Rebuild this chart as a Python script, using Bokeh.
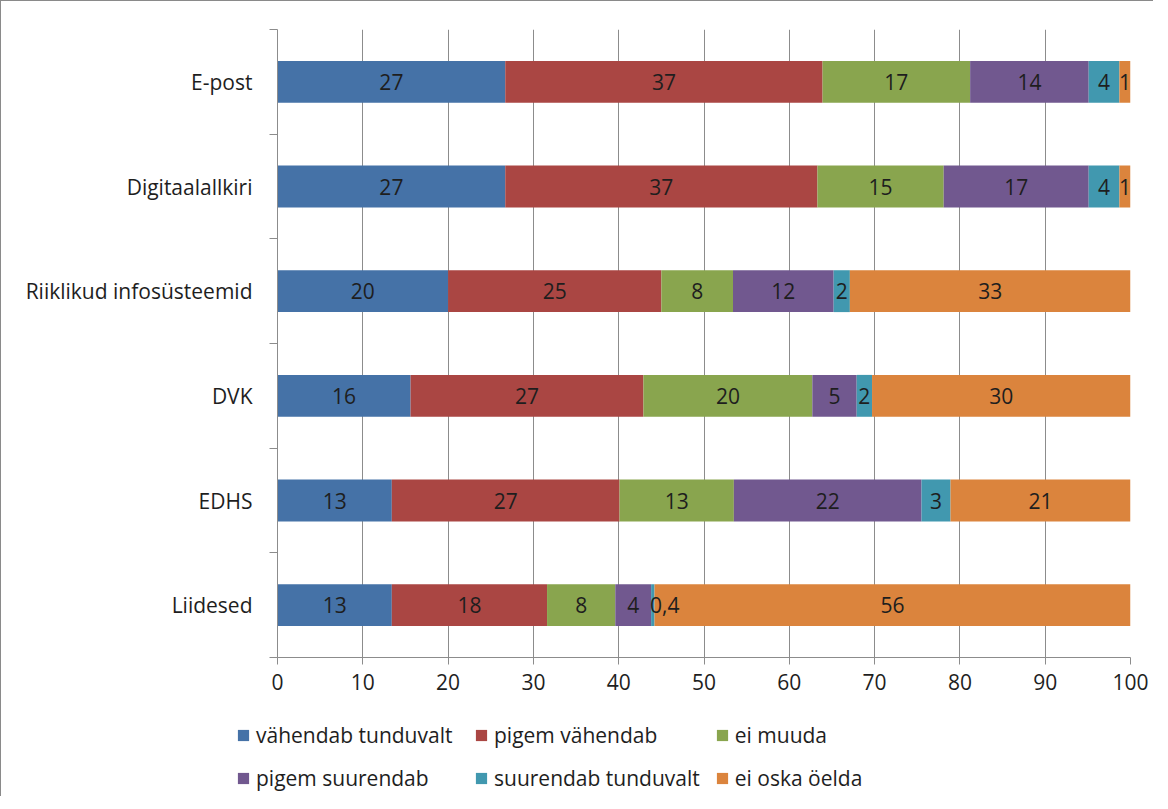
from bokeh.plotting import figure
from bokeh.layouts import column
from bokeh.models import ColumnDataSource, FixedTicker, Legend, LegendItem, Range1d
from bokeh.embed import file_html
from bokeh.resources import INLINE
from bokeh.core.properties import value

categories = ["E-post", "Digitaalallkiri", "Riiklikud infosüsteemid", "DVK", "EDHS", "Liidesed"]
series_names = ["vähendab tunduvalt", "pigem vähendab", "ei muuda",
                "pigem suurendab", "suurendab tunduvalt", "ei oska öelda"]
vahendab_tunduvalt = [26.7, 26.7, 20.0, 15.6, 13.4, 13.4]
pigem_vahendab = [37.2, 36.6, 25.0, 27.3, 26.7, 18.2]
ei_muuda = [17.3, 14.8, 8.4, 19.8, 13.4, 8.0]
pigem_suurendab = [13.9, 17.0, 11.8, 5.2, 22.0, 4.2]
suurendab_tunduvalt = [3.6, 3.6, 1.9, 1.8, 3.4, 0.4]
ei_oska_oelda = [1.3, 1.3, 32.9, 30.3, 21.1, 55.8]
colors = ["#4572A7", "#AA4643", "#89A54E", "#71588F", "#4198AF", "#DB843D"]
x_ticks = [0, 10, 20, 30, 40, 50, 60, 70, 80, 90, 100]

series = [vahendab_tunduvalt, pigem_vahendab, ei_muuda,
          pigem_suurendab, suurendab_tunduvalt, ei_oska_oelda]

FONT = "Open Sans"
FS = "21px"
GRAY = "#8c8c8c"
TXT = "#1e1e1e"

n = len(categories)
ypos = [n - 0.5 - i for i in range(n)]


def fmt(v):
    if v < 1:
        return ("%.1f" % v).replace(".", ",")
    return str(int(v + 0.5))


p = figure(width=1152, height=701, x_range=Range1d(0, 100), y_range=Range1d(0, n),
           output_backend="svg", toolbar_location=None,
           min_border_left=276, min_border_right=23, min_border_top=28, min_border_bottom=45)
p.outline_line_color = None

# x axis
p.xaxis.ticker = FixedTicker(ticks=x_ticks, minor_ticks=[])
p.xaxis.axis_line_color = GRAY
p.xaxis.major_tick_line_color = GRAY
p.xaxis.major_tick_out = 7
p.xaxis.major_tick_in = 0
p.xaxis.major_label_text_font = FONT
p.xaxis.major_label_text_font_size = FS
p.xaxis.major_label_text_color = TXT
p.xaxis.major_label_standoff = 9
p.xgrid.ticker = FixedTicker(ticks=x_ticks)
p.xgrid.grid_line_color = GRAY
p.ygrid.grid_line_color = None

# y axis: labels at band centres, tick marks at band boundaries
p.yaxis.ticker = FixedTicker(ticks=ypos, minor_ticks=list(range(n + 1)))
p.yaxis.major_label_overrides = {y: c for y, c in zip(ypos, categories)}
p.yaxis.axis_line_color = GRAY
p.yaxis.major_tick_line_color = None
p.yaxis.minor_tick_line_color = GRAY
p.yaxis.minor_tick_out = 8
p.yaxis.minor_tick_in = 0
p.yaxis.major_label_text_font = FONT
p.yaxis.major_label_text_font_size = FS
p.yaxis.major_label_text_color = TXT
p.yaxis.major_label_standoff = 17

# legend strip below the chart: it shows the same series (drawn out of its view)
lf = figure(width=1152, height=94, x_range=Range1d(0, 100), y_range=Range1d(100, 101),
            output_backend="svg", toolbar_location=None, x_axis_type=None, y_axis_type=None,
            min_border=0)
lf.outline_line_color = None
lf.grid.visible = False
for fig in (p, lf):
    if "frame_align" in fig.properties():
        fig.frame_align = False

left = [0.0] * n
items = []
lab_x, lab_y, lab_t, lab_off = [], [], [], []
for name, vals, col in zip(series_names, series, colors):
    right = [l + v for l, v in zip(left, vals)]
    src = ColumnDataSource(dict(y=ypos, left=left, right=right))
    p.hbar(y="y", left="left", right="right", height=0.4, source=src,
           fill_color=col, line_color=None)
    r = lf.hbar(y="y", left="left", right="right", height=0.4, source=src,
                fill_color=col, line_color=None)
    items.append(LegendItem(label=name, renderers=[r]))
    for l, v, y in zip(left, vals, ypos):
        lab_x.append(l + v / 2)
        lab_y.append(y)
        lab_t.append(fmt(v))
        lab_off.append(12 if v < 1 else 0)   # tiny segment: label pushed to the right
    left = right

lsrc = ColumnDataSource(dict(x=lab_x, y=lab_y, text=lab_t, off=lab_off))
p.text(x="x", y="y", text="text", x_offset="off", source=lsrc,
       text_align="center", text_baseline="middle",
       text_font=value(FONT), text_font_size=FS, text_color=TXT)

legend = Legend(items=items, ncols=3, orientation="horizontal", location=(235, 4))
legend.label_text_font = FONT
legend.label_text_font_size = FS
legend.label_text_color = TXT
legend.glyph_width = 14
legend.glyph_height = 14
legend.label_standoff = 6
legend.spacing = 15
legend.label_width = 203
legend.border_line_color = None
legend.background_fill_alpha = 0
legend.margin = 0
legend.padding = 0
lf.add_layout(legend, "center")

layout = column(p, lf, spacing=0,
                styles={"border-left": "1px solid #8a8a8a", "border-top": "1px solid #8a8a8a"})

open("out.html", "w").write(file_html(layout, INLINE))
